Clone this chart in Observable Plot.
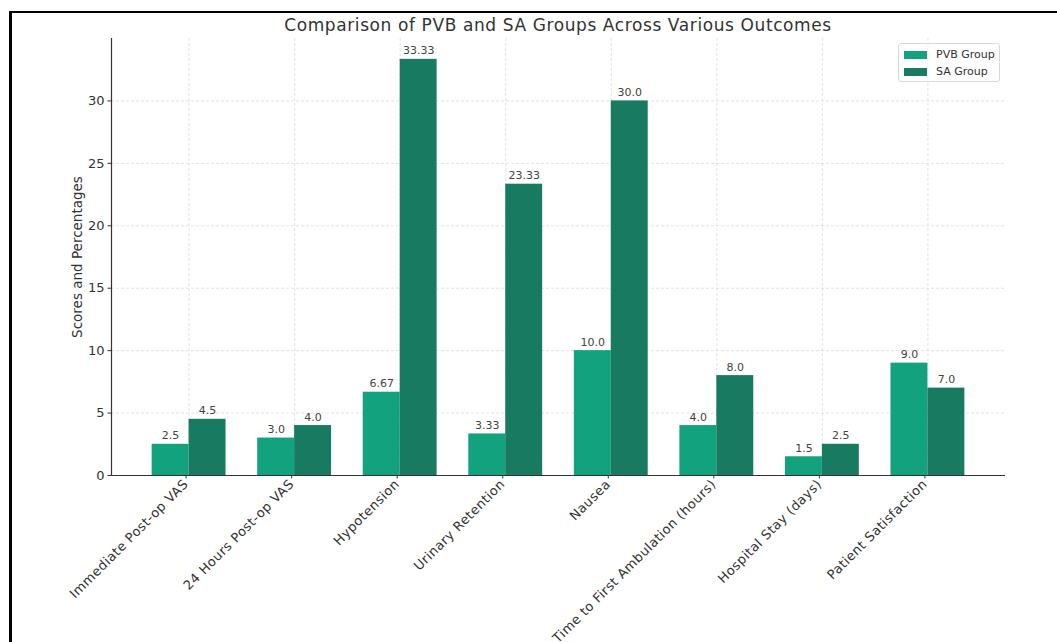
<!DOCTYPE html>
<html>
<head>
<meta charset="utf-8">
<script src="https://cdn.jsdelivr.net/npm/d3@7"></script>
<script src="https://cdn.jsdelivr.net/npm/@observablehq/plot@0.6"></script>
<style>
  html, body { margin: 0; padding: 0; background: #fff; }
  body { width: 1057px; height: 642px; position: relative; overflow: hidden; font-family: "DejaVu Sans", sans-serif; }
  #frame { position: absolute; left: 9px; top: 11px; width: 1200px; height: 800px; border-left: 3px solid #000; border-top: 2px solid #000; }
  #title { position: absolute; left: 0; top: 0; width: 1116px; height: 30px; text-align: center; font-size: 17px; letter-spacing: 0.6px; line-height: 17px; padding-top: 17px; color: #333; box-sizing: border-box; }
  #chart { position: absolute; left: 0; top: 30px; }
  #chart g[aria-label="x-axis tick label"] text { letter-spacing: 0.45px; }
  #legend { position: absolute; left: 898px; top: 43px; width: 102px; height: 39px; border: 1px solid #d9d9d9; border-radius: 3px; background: rgba(255,255,255,0.8); box-sizing: border-box; font-size: 11px; color: #333; }
  .li { position: absolute; left: 5px; display: flex; align-items: center; }
  .sw { width: 23px; height: 8px; margin-right: 9px; }
</style>
</head>
<body>
<div id="frame"></div>
<div id="title">Comparison of PVB and SA Groups Across Various Outcomes</div>
<div id="chart"></div>
<div id="legend"></div>
<script>
const categories = [
  "Immediate Post-op VAS",
  "24 Hours Post-op VAS",
  "Hypotension",
  "Urinary Retention",
  "Nausea",
  "Time to First Ambulation (hours)",
  "Hospital Stay (days)",
  "Patient Satisfaction"
];
const pvbValues = [2.5, 3.0, 6.67, 3.33, 10.0, 4.0, 1.5, 9.0];
const saValues  = [4.5, 4.0, 33.33, 23.33, 30.0, 8.0, 2.5, 7.0];
const groups = ["PVB Group", "SA Group"];
const colors = ["#13a27e", "#187a60"];
const yTicks = [0, 5, 10, 15, 20, 25, 30];

const barWidth = 0.35;
const rows = [];
categories.forEach((c, i) => {
  rows.push({i, cat: c, group: groups[0], value: pvbValues[i], x1: i - barWidth, x2: i});
  rows.push({i, cat: c, group: groups[1], value: saValues[i], x1: i, x2: i + barWidth});
});
const fmt = v => Number.isInteger(v) ? v.toFixed(1) : String(v);

const chart = Plot.plot({
  width: 1057,
  height: 612,
  marginTop: 8,
  marginBottom: 167,
  marginLeft: 111,
  marginRight: 52,
  style: {fontFamily: "DejaVu Sans, sans-serif", fontSize: "13px", color: "#333", background: "transparent"},
  x: {domain: [-0.735, categories.length - 1 + 0.735]},
  y: {domain: [0, 35]},
  color: {domain: groups, range: colors},
  marks: [
    Plot.gridY(yTicks.slice(1), {stroke: "#c4c4c4", strokeOpacity: 0.7, strokeDasharray: "3,2", strokeWidth: 0.7}),
    Plot.gridX(d3.range(categories.length), {stroke: "#c4c4c4", strokeOpacity: 0.7, strokeDasharray: "3,2", strokeWidth: 0.7}),
    Plot.rectY(rows, {x1: "x1", x2: "x2", y1: 0, y2: "value", fill: "group"}),
    Plot.text(rows, {x: d => (d.x1 + d.x2) / 2, y: "value", text: d => fmt(d.value), lineAnchor: "bottom", dy: -5, fontSize: 11, fill: "#444"}),
    Plot.axisY(yTicks, {tickSize: 3.5, tickPadding: 3.5, fontSize: 13, color: "#333", label: null, tickFormat: d => String(d)}),
    Plot.axisX(d3.range(categories.length), {tickSize: 3.5, tickPadding: 3, tickRotate: -45, dx: -3, fontSize: 13, color: "#333", label: null, tickFormat: i => categories[i]}),
    Plot.ruleY([0], {stroke: "#333", strokeWidth: 1.2}),
    Plot.ruleX([-0.735], {stroke: "#333", strokeWidth: 1.2}),
    Plot.text(["Scores and Percentages"], {frameAnchor: "left", dx: -34, rotate: -90, fontSize: 13.5, fill: "#333", textAnchor: "middle"})
  ]
});
document.getElementById("chart").appendChild(chart);

const legend = document.getElementById("legend");
groups.forEach((g, k) => {
  const item = document.createElement("div");
  item.className = "li";
  item.style.top = (4 + k * 17) + "px";
  item.innerHTML = `<span class="sw" style="background:${colors[k]}"></span><span>${g}</span>`;
  legend.appendChild(item);
});
</script>
</body>
</html>
